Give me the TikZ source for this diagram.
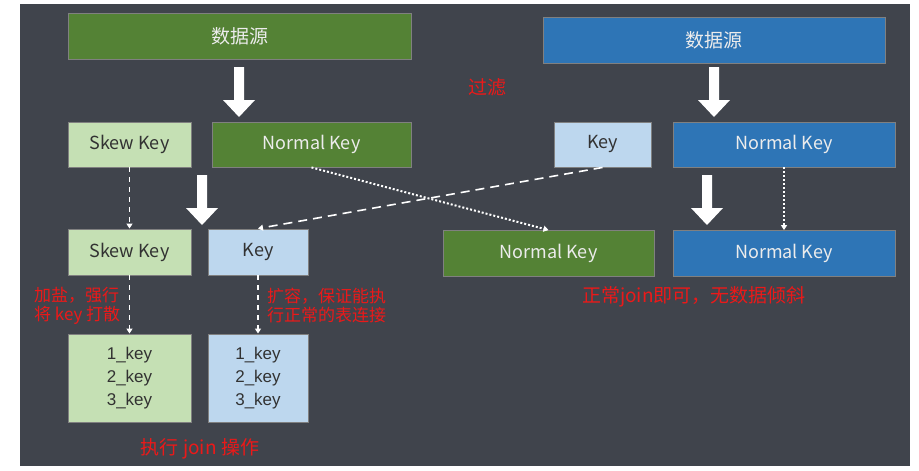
\documentclass[tikz,border=0pt]{standalone}
\usepackage{fontspec}
\setmainfont{Noto Sans CJK SC}
\newfontfamily\listfont{Liberation Sans}
\usetikzlibrary{arrows.meta}

\definecolor{panel}{RGB}{64,68,76}
\definecolor{darkgreen}{RGB}{84,130,53}
\definecolor{lightgreen}{RGB}{197,224,180}
\definecolor{darkblue}{RGB}{46,117,182}
\definecolor{lightblue}{RGB}{189,215,238}
\definecolor{edgegray}{RGB}{128,128,128}
\definecolor{notered}{RGB}{235,25,25}
\definecolor{textdark}{RGB}{50,50,50}
\definecolor{textlight}{RGB}{236,236,236}

\tikzset{
  box/.style={draw=edgegray, line width=0.9pt, inner sep=0pt, font=\fontsize{18}{20}\selectfont},
  darkbox/.style={box, text=textlight},
  lightbox/.style={box, text=textdark},
  listbox/.style={lightbox, align=center, font=\listfont\fontsize{17}{23}\selectfont},
  note/.style={text=notered, inner sep=0pt, font=\fontsize{17}{19}\selectfont},
  bignote/.style={note, font=\fontsize{19}{21}\selectfont},
  dashline/.style={white, line width=1.6pt, dash pattern=on 5pt off 5pt, -{Triangle[width=6pt,length=5pt]}},
  longdash/.style={dashline, dash pattern=on 9pt off 6pt},
  dotline/.style={white, line width=2pt, dash pattern=on 2pt off 2pt, -{Triangle[width=6pt,length=5pt]}},
}

\begin{document}
\begin{tikzpicture}[x=1pt,y=-1pt]

\fill[white] (0,0) rectangle (919,471);
\fill[panel] (20,4) rectangle (910,466);

% left side
\node[darkbox, fill=darkgreen, minimum width=343pt, minimum height=46pt, font=\fontsize{19}{21}\selectfont] (srcL) at (239.5,36) {数据源};
\node[lightbox, fill=lightgreen, minimum width=123pt, minimum height=45pt] (skewA) at (129.5,144.5) {Skew Key};
\node[darkbox, fill=darkgreen, minimum width=199pt, minimum height=45pt] (normA) at (311.5,144.5) {Normal Key};
\node[lightbox, fill=lightgreen, minimum width=123pt, minimum height=46pt] (skewC) at (129.5,252) {Skew Key};
\node[lightbox, fill=lightblue, minimum width=100pt, minimum height=46pt] (keyC) at (258,252) {Key};
\node[listbox, fill=lightgreen, minimum width=123pt, minimum height=88pt] (listL) at (129.5,378) {1\_key\\2\_key\\3\_key};
\node[listbox, fill=lightblue, minimum width=100pt, minimum height=88pt] (listR) at (258,378) {1\_key\\2\_key\\3\_key};

% right side
\node[darkbox, fill=darkblue, minimum width=342pt, minimum height=46pt, font=\fontsize{19}{21}\selectfont] (srcR) at (714,40) {数据源};
\node[lightbox, fill=lightblue, minimum width=97pt, minimum height=45pt] (keyA) at (602.5,144.5) {Key};
\node[darkbox, fill=darkblue, minimum width=222pt, minimum height=45pt] (normB) at (784,144.5) {Normal Key};
\node[darkbox, fill=darkgreen, minimum width=211pt, minimum height=46pt] (normC) at (548.5,253.5) {Normal Key};
\node[darkbox, fill=darkblue, minimum width=222pt, minimum height=46pt] (normD) at (784,253.5) {Normal Key};

% block arrows
\foreach \x/\y in {239/67, 202/175, 714/67, 707/175}
{\fill[white] (\x-5,\y) -- (\x+5,\y) -- (\x+5,\y+33) -- (\x+16,\y+33) -- (\x,\y+50)
   -- (\x-16,\y+33) -- (\x-5,\y+33) -- cycle;}

% connectors
\draw[dashline] (skewA.south) -- (skewC.north);
\draw[longdash] (keyA.south) -- (keyC.north);
\draw[dotline] (normA.south) -- (normC.north);
\draw[dotline] (normB.south) -- (normD.north);
\draw[dashline] (skewC.south) -- (listL.north);
\draw[dashline] (keyC.south) -- (listR.north);

% notes
\node[bignote] (filter) at (487,87) {过滤};
\node[note, align=left, anchor=west] (salt) at (34,305.5) {加盐，强行\\将 key 打散};
\node[note, align=left, anchor=west] (expand) at (267,305.5) {扩容，保证能执\\行正常的表连接};
\node[bignote] (joinop) at (200,449) {执行 join 操作};
\node[bignote] (plain) at (694,297) {正常join即可，无数据倾斜};

\end{tikzpicture}
\end{document}
